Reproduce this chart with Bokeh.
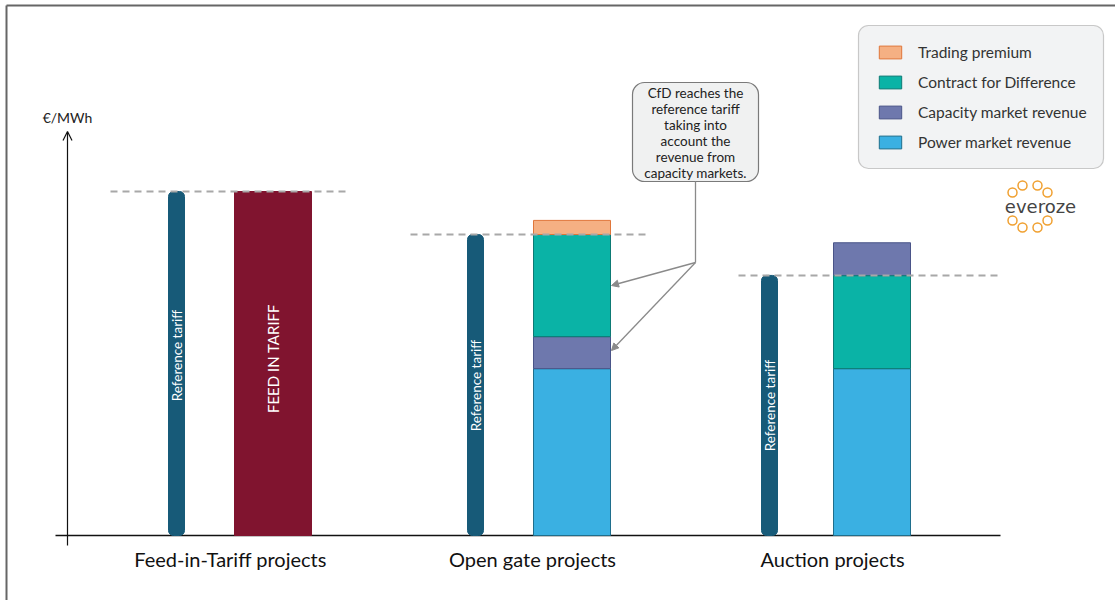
from bokeh.plotting import figure
from bokeh.models import Range1d, Arrow, OpenHead, NormalHead, Legend, LegendItem
from bokeh.core.properties import value
from bokeh.embed import file_html
from bokeh.resources import INLINE
import math

# ---------------- data (€/MWh, relative) ----------------
categories = ["Feed-in-Tariff projects", "Open gate projects", "Auction projects"]
reference_tariff = [100.0, 87.5, 75.6]
feed_in_tariff = [100.0, 0.0, 0.0]
power_market_revenue = [0.0, 48.5, 48.5]
capacity_market_revenue = [0.0, 9.3, 9.6]
contract_for_difference = [0.0, 29.7, 27.0]
trading_premium = [0.0, 4.1, 0.0]
legend_labels = ["Trading premium", "Contract for Difference",
                 "Capacity market revenue", "Power market revenue"]
callout_lines = ["CfD reaches the", "reference tariff", "taking into",
                 "account the", "revenue from", "capacity markets."]

# ---------------- layout ----------------
K = 3.44          # px per unit
BASE = 535        # baseline pixel row
def Y(py):
    return (BASE - py) / K

ref_x = [176, 475, 769]
main_x = [272.5, 571.5, 871.5]
label_x = [230, 532, 832]
dash_ext = [(110, 348), (410, 648), (738, 1000)]
stack_order = [[], ["power", "capacity", "cfd", "trading"], ["power", "cfd", "capacity"]]

FONT = "Lato"

p = figure(width=1115, height=600, x_range=Range1d(0, 1115),
           y_range=Range1d(Y(600), Y(0)), output_backend="svg",
           toolbar_location=None, min_border=0, x_axis_type=None, y_axis_type=None)
p.grid.visible = False
p.outline_line_color = None
p.background_fill_color = "white"

# frame border lines (top and left)
p.segment(x0=[6, 6], y0=[Y(600), Y(5)], x1=[6, 1115], y1=[Y(5), Y(5)],
          line_color="#666666", line_width=2)

# x axis line
p.segment(x0=[55], y0=[0], x1=[1000], y1=[0], line_color="#111111", line_width=1.5)
# y axis arrow
p.add_layout(Arrow(end=OpenHead(size=9, line_color="#111111", line_width=1.2),
                   x_start=67, y_start=Y(545), x_end=67, y_end=Y(131),
                   line_color="#111111", line_width=1.2))
p.text(x=[67], y=[Y(117)], text=["€/MWh"], text_align="center", text_baseline="middle",
       text_font=value(FONT), text_font_size="14px", text_color="#222222")

# reference tariff bars
p.vbar(x=ref_x, width=16, bottom=0, top=reference_tariff, fill_color="#175a78",
       line_color="#175a78", border_radius=5)

# feed in tariff bar
p.vbar(x=[main_x[0]], width=77, bottom=0, top=[feed_in_tariff[0]],
       fill_color="#80142f", line_color="#80142f")

# stacked bars
comp = {
    "power": (power_market_revenue, "#3ab0e2", "#1f6e8c"),
    "capacity": (capacity_market_revenue, "#6e78ad", "#4a5488"),
    "cfd": (contract_for_difference, "#0ab3a6", "#0d7a74"),
    "trading": (trading_premium, "#f5b083", "#e0763a"),
}
segs = {k: {"x": [], "bottom": [], "top": []} for k in comp}
for i, order in enumerate(stack_order):
    cum = 0.0
    for name in order:
        v = comp[name][0][i]
        segs[name]["x"].append(main_x[i])
        segs[name]["bottom"].append(cum)
        segs[name]["top"].append(cum + v)
        cum += v

rend = {}
for name, (vals, fc, lc) in comp.items():
    rend[name] = p.vbar(x=segs[name]["x"], width=77, bottom=segs[name]["bottom"],
                        top=segs[name]["top"], fill_color=fc, line_color=lc, line_width=1)

# dashed reference lines
p.segment(x0=[a for a, b in dash_ext], x1=[b for a, b in dash_ext],
          y0=reference_tariff, y1=reference_tariff,
          line_color="#a8a8a8", line_width=2, line_dash="7 5")

# rotated labels
p.text(x=ref_x, y=[Y(355), Y(385), Y(405)], text=["Reference tariff"] * 3, angle=math.pi / 2,
       text_align="center", text_baseline="middle", text_font=value(FONT),
       text_font_size="13.5px", text_color="white")
p.text(x=[main_x[0]], y=[Y(358)], text=["FEED IN TARIFF"], angle=math.pi / 2,
       text_align="center", text_baseline="middle", text_font=value(FONT),
       text_font_size="15px", text_color="white")

# category labels
p.text(x=label_x, y=[Y(558)] * 3, text=categories, text_align="center",
       text_baseline="middle", text_font=value(FONT), text_font_size="20px",
       text_color="#111111")

# callout
p.quad(left=[632], right=[758], top=[Y(82)], bottom=[Y(181)], fill_color="#f0f1f1",
       line_color="#7a7a7a", line_width=1.2, border_radius=12)
p.text(x=[695] * len(callout_lines), y=[Y(92 + 16 * i) for i in range(len(callout_lines))],
       text=callout_lines, text_align="center", text_baseline="middle",
       text_font=value(FONT), text_font_size="13.5px", text_color="#222222")
p.segment(x0=[695], y0=[Y(181)], x1=[695], y1=[Y(262)], line_color="#8a8a8a", line_width=1.3)
for ty in (285, 350):
    p.add_layout(Arrow(end=NormalHead(size=7, fill_color="#8a8a8a", line_color="#8a8a8a"),
                       x_start=695, y_start=Y(262), x_end=611, y_end=Y(ty),
                       line_color="#8a8a8a", line_width=1.3))

# legend box + legend
p.quad(left=[858], right=[1103], top=[Y(25)], bottom=[Y(168)], fill_color="#f2f3f4",
       line_color="#c8c8c8", line_width=1.2, border_radius=10)
legend = Legend(items=[
    LegendItem(label=legend_labels[0], renderers=[rend["trading"]]),
    LegendItem(label=legend_labels[1], renderers=[rend["cfd"]]),
    LegendItem(label=legend_labels[2], renderers=[rend["capacity"]]),
    LegendItem(label=legend_labels[3], renderers=[rend["power"]]),
], location=(860, 600 - 168), orientation="vertical",
    glyph_width=28, glyph_height=16, label_height=20, spacing=10, padding=16,
    label_standoff=14, margin=0, background_fill_alpha=0, border_line_alpha=0,
    label_text_font=FONT, label_text_font_size="15.5px", label_text_color="#333333")
p.add_layout(legend, "center")

# everoze logo
cx = [1012, 1022, 1037, 1047, 1012, 1022, 1037, 1047]
cy = [192, 185, 185, 192, 220, 227, 227, 220]
p.scatter(x=cx, y=[Y(v) for v in cy], marker="circle", size=9, fill_color=None,
          line_color="#f0a030", line_width=1.5)
p.text(x=[1040], y=[Y(206)], text=["everoze"], text_align="center", text_baseline="middle",
       text_font=value("DejaVu Sans"), text_font_size="18px", text_color="#444444")

open("out.html", "w").write(file_html(p, INLINE))
